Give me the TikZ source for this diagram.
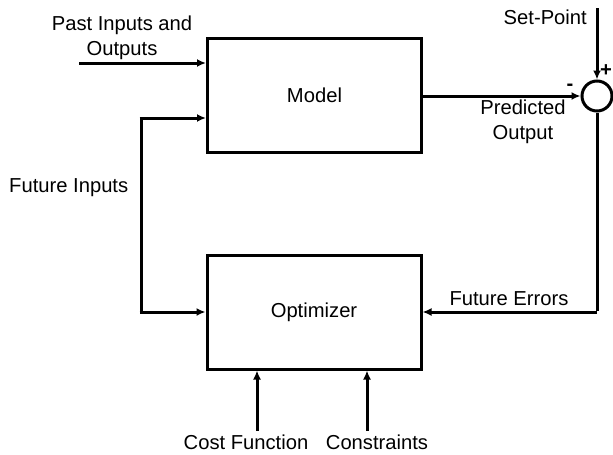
\documentclass[tikz,border=0pt]{standalone}
\usepackage{fontspec}
\setmainfont{Liberation Sans}
\usetikzlibrary{arrows.meta}
\begin{document}
\begin{tikzpicture}[x=1pt,y=-1pt,
  every node/.style={font=\fontsize{20.2}{25}\selectfont, inner sep=0pt},
  blk/.style={draw, line width=3pt, minimum width=214pt, minimum height=114pt},
  conn/.style={line width=3pt, -{Latex[length=9pt,width=8pt]}},
  plain/.style={line width=3pt},
  lbl/.style={align=center}]
\useasboundingbox (0,0) rectangle (613,455);
\node[blk] (model) at (314.5,95.5) {Model};
\node[blk] (opt) at (314,312) {Optimizer};
\node[draw, circle, line width=3pt, minimum size=30pt] (sum) at (597,96) {};
% Past inputs
\coordinate (pin) at (79,63);
\draw[conn] (pin) -- (pin -| model.west);
\node[lbl] (pastlbl) at (122,38) {Past Inputs and\\Outputs};
% Future inputs
\coordinate (fi1) at (141,118);
\coordinate (fi2) at (141,312);
\draw[plain] (fi1) -- (fi2);
\draw[conn] ([xshift=-1.5pt]fi1) -- (fi1 -| model.west);
\draw[conn] ([xshift=-1.5pt]fi2) -- (opt.west);
\node[anchor=west] (filbl) at (9,188) {Future Inputs};
% Model output to sum
\draw[conn] (model.east |- sum.west) -- (sum.west);
\node[lbl] (predlbl) at (523,122) {Predicted\\Output};
\node (minus) at (570,87) {\textbf{-}};
% Set-point
\coordinate (sp) at (597,8);
\draw[conn] (sp) -- (sum.north);
\node[anchor=east] (splbl) at (587,17) {Set-Point};
\node (plus) at (606,71) {\textbf{+}};
% Future errors
\coordinate (fe) at (597,312);
\draw[plain] (sum.south) -- ([yshift=1.5pt]fe);
\draw[conn] (fe) -- (opt.east);
\node (felbl) at (509,299) {Future Errors};
% Cost function and constraints
\coordinate (cf) at (257,431);
\coordinate (ct) at (367,431);
\draw[conn] (cf) -- (cf |- opt.south);
\draw[conn] (ct) -- (ct |- opt.south);
\node (cflbl) at (246,442) {Cost Function};
\node (ctlbl) at (377,442) {Constraints};
\end{tikzpicture}
\end{document}
